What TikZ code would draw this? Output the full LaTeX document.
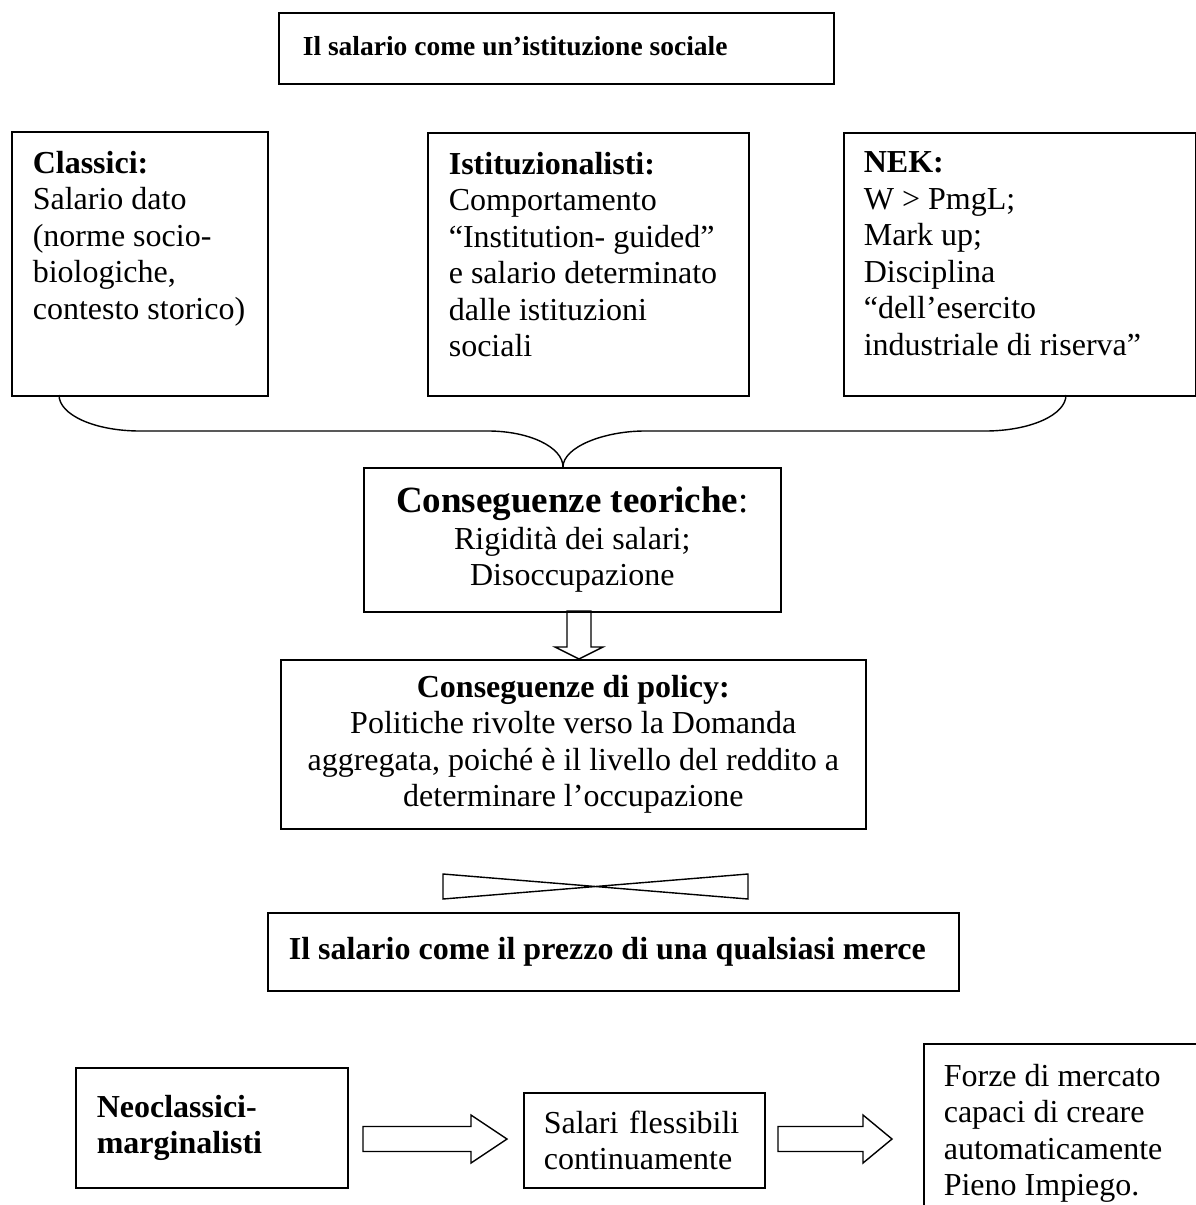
\documentclass[tikz,border=0pt]{standalone}
\usepackage{fontspec}
\setmainfont{Liberation Serif}
\usepackage{tikz}
\usetikzlibrary{calc,positioning}
\newcommand{\bodysize}{\fontsize{32}{36.5}\selectfont}
\newcommand{\titlesize}{\fontsize{27.5}{32}\selectfont}
\newcommand{\headsize}{\fontsize{37}{38}\selectfont}
\tikzset{
  box/.style={draw=black,line width=1.6pt,inner sep=0pt,anchor=north west},
  topbox/.style={box,inner xsep=21pt,inner ysep=19pt},
  midbox/.style={box,align=center,font=\bodysize},
  leftbox/.style={box,align=left,inner xsep=21pt},
  hollow/.style={draw=black,line width=1.4pt,line join=miter},
  brace/.style={draw=black,line width=1.4pt},
}
% block arrows: tail, tip, head length
\newcommand{\hollowright}[3]{%
  \draw[hollow] let \p1=(#1), \p2=(#2) in
    (\x1,\y1+12.5pt) -- (\x2-#3,\y1+12.5pt) -- (\x2-#3,\y1+24pt) -- (\x2,\y1)
    -- (\x2-#3,\y1-24pt) -- (\x2-#3,\y1-12.5pt) -- (\x1,\y1-12.5pt) -- cycle;}
\newcommand{\hollowdown}[3]{%
  \draw[hollow] let \p1=(#1), \p2=(#2) in
    (\x1-12pt,\y1) -- (\x1-12pt,\y2+#3) -- (\x1-24pt,\y2+#3) -- (\x1,\y2)
    -- (\x1+24pt,\y2+#3) -- (\x1+12pt,\y2+#3) -- (\x1+12pt,\y1) -- cycle;}

\begin{document}
\begin{tikzpicture}[x=1pt,y=-1pt]
  \useasboundingbox (0,0) rectangle (1196,1205);

  % title
  \node[box,inner xsep=24pt,minimum width=555pt,minimum height=71pt,font=\titlesize\bfseries] (tit) at (278,12)
    {\raisebox{4pt}{\makebox[507pt][l]{Il salario come un’istituzione sociale}}};

  % three schools
  \node[topbox] (cla) at (11,131) {\parbox[c][226pt][t]{214pt}{\raggedright\bodysize
    \textbf{Classici:}\\ Salario dato\\ (norme socio-\\ biologiche,\\ contesto storico)}};
  \node[topbox] (ist) at (427,132) {\parbox[c][225pt][t]{279pt}{\raggedright\bodysize
    \textbf{Istituzionalisti:}\\ Comportamento\\ “Institution- guided”\\ e salario determinato\\ dalle istituzioni\\ sociali}};
  \node[topbox,inner xsep=20pt] (nek) at (843,132) {\parbox[c][225pt][t]{312pt}{\raggedright\bodysize
    \textbf{NEK:}\\ W > PmgL;\\ Mark up;\\ Disciplina\\ “dell’esercito\\ industriale di riserva”}};

  % brace
  \coordinate (brL) at (59,395);
  \coordinate (brR) at (1066,395);
  \coordinate (brtip) at (563,467);
  \draw[brace] (brL) .. controls (59,415) and (95,431) .. (140,431) -- (488,431)
    .. controls (529,431) and (563,447) .. (brtip);
  \draw[brace] (brR) .. controls (1066,415) and (1030,431) .. (985,431) -- (645,431)
    .. controls (604,431) and (563,447) .. (brtip);

  \node[midbox,minimum width=417pt,minimum height=144pt] (teo) at (363,467)
    {{\headsize\textbf{Conseguenze teoriche}:}\\ Rigidità dei salari;\\ Disoccupazione};

  \coordinate (dnA) at (579,611);
  \coordinate (dnB) at (579,659);
  \hollowdown{dnA}{dnB}{12pt}

  \node[midbox,minimum width=585pt,minimum height=169pt] (pol) at (280,659)
    {\textbf{Conseguenze di policy:}\\ Politiche rivolte verso la Domanda\\
     aggregata, poiché è il livello del reddito a\\ determinare l’occupazione};

  % bow tie
  \draw[hollow] (443,874) -- (748,899) -- (748,874) -- (443,899) -- cycle;

  \node[box,inner xsep=21pt,minimum width=691pt,minimum height=78pt,font=\bodysize\bfseries] (mer) at (267,912)
    {\makebox[649pt][l]{Il salario come il prezzo di una qualsiasi merce}};

  % bottom row
  \node[leftbox,text width=230pt,minimum width=272pt,minimum height=120pt,
        font=\bodysize\bfseries] (neo) at (75,1067) {Neoclassici-\\ marginalisti};
  \node[leftbox,inner xsep=20pt,text width=201pt,minimum width=241pt,minimum height=95pt,
        font=\bodysize] (sal) at (523,1092) {Salari flessibili\\ continuamente};
  \node[topbox,inner xsep=20pt,inner ysep=20pt] (frz) at (923,1043) {\parbox[c][200pt][t]{270pt}{\raggedright\bodysize
    Forze di mercato\\ capaci di creare\\ automaticamente\\ Pieno Impiego.}};

  \coordinate (a1s) at (363,1139);
  \coordinate (a1e) at (507,1139);
  \coordinate (a2s) at (778,1139);
  \coordinate (a2e) at (892,1139);
  \hollowright{a1s}{a1e}{36pt}
  \hollowright{a2s}{a2e}{29pt}
\end{tikzpicture}
\end{document}
